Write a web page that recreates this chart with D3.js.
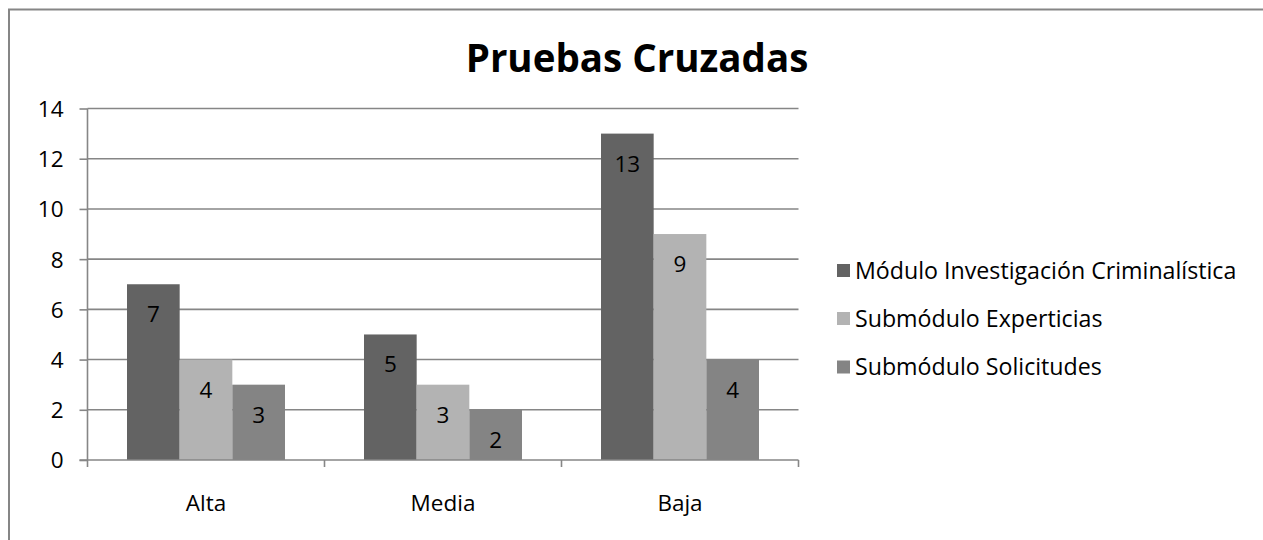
<!DOCTYPE html>
<html><head><meta charset="utf-8">
<script src="https://cdn.jsdelivr.net/npm/d3@7"></script>
<style>body{margin:0;background:#fff}svg{display:block}text{font-family:"Open Sans","Noto Sans",sans-serif;fill:#000}</style>
</head><body>
<svg id="c" width="1263" height="540"></svg>
<script>
const categories = ["Alta", "Media", "Baja"];
const seriesNames = ["Módulo Investigación Criminalística", "Submódulo Experticias", "Submódulo Solicitudes"];
const seriesValues = [
  [7, 5, 13],
  [4, 3, 9],
  [3, 2, 4]
];
const yTicks = [0, 2, 4, 6, 8, 10, 12, 14];
const title = "Pruebas Cruzadas";
const colors = ["#636363", "#b3b3b3", "#848484"];

(function () {
const svg = d3.select("#c");
const axisColor = "#868686";
const fs = 22.5;

svg.append("path").attr("d", "M9,540V9.5H1263").attr("fill", "none").attr("stroke", axisColor).attr("stroke-width", 2);

const pL = 87.5, pR = 798.5, pT = 108.5, pB = 460;
const x = d3.scaleBand().domain(categories).range([pL, pR]);
const y = d3.scaleLinear().domain([0, 14]).range([pB, pT]);
const xs = d3.scaleBand().domain(d3.range(seriesNames.length)).range([0, x.bandwidth()]).paddingInner(0).paddingOuter(0.75);

svg.append("g").selectAll("line").data(yTicks.filter(d => d > 0)).join("line")
  .attr("x1", pL).attr("x2", pR).attr("y1", d => y(d)).attr("y2", d => y(d))
  .attr("stroke", axisColor).attr("stroke-width", 1.6);

seriesNames.forEach((name, si) => {
  const g = svg.append("g");
  g.selectAll("rect").data(categories).join("rect")
    .attr("x", c => x(c) + xs(si))
    .attr("width", xs.bandwidth())
    .attr("y", (c, ci) => y(seriesValues[si][ci]))
    .attr("height", (c, ci) => y(0) - y(seriesValues[si][ci]))
    .attr("fill", colors[si]);
  g.selectAll("text").data(categories).join("text")
    .attr("x", c => x(c) + xs(si) + xs.bandwidth() / 2)
    .attr("y", (c, ci) => y(seriesValues[si][ci]) + 38)
    .attr("text-anchor", "middle").attr("font-size", fs)
    .text((c, ci) => seriesValues[si][ci]);
});

const yAxis = d3.axisLeft(y).tickValues(yTicks).tickSize(8).tickPadding(16);
const gy = svg.append("g").attr("transform", `translate(${pL},0)`).call(yAxis);
gy.select(".domain").attr("stroke", axisColor).attr("stroke-width", 1.6).attr("d", `M0,${pT}V${pB}`);
gy.selectAll(".tick line").attr("stroke", axisColor).attr("stroke-width", 1.6);
gy.selectAll(".tick text").attr("font-size", fs).attr("font-family", '"Open Sans","Noto Sans",sans-serif').attr("fill", "#000").attr("dy", "0.35em");

const gx = svg.append("g").attr("transform", `translate(0,${pB})`);
gx.append("line").attr("x1", pL - 8).attr("x2", pR).attr("stroke", axisColor).attr("stroke-width", 1.6);
const bounds = [pL, ...categories.map(c => x(c) + x.bandwidth())];
gx.selectAll("line.t").data(bounds).join("line").attr("class", "t")
  .attr("x1", d => d).attr("x2", d => d).attr("y1", 0).attr("y2", 7)
  .attr("stroke", axisColor).attr("stroke-width", 1.6);
gx.selectAll("text").data(categories).join("text")
  .attr("x", c => x(c) + x.bandwidth() / 2).attr("y", 51)
  .attr("text-anchor", "middle").attr("font-size", fs).text(c => c);

svg.append("text").attr("x", 637).attr("y", 72).attr("text-anchor", "middle")
  .attr("font-size", 38.5).attr("font-weight", "bold").text(title);

const lg = svg.append("g");
const legY = [270.5, 318.5, 367];
seriesNames.forEach((n, i) => {
  lg.append("rect").attr("x", 837).attr("y", legY[i] - 6.5).attr("width", 13).attr("height", 13).attr("fill", colors[i]);
  lg.append("text").attr("x", 855).attr("y", legY[i]).attr("dy", "0.35em").attr("font-size", 23.2).text(n);
});
})();
</script>
</body></html>
